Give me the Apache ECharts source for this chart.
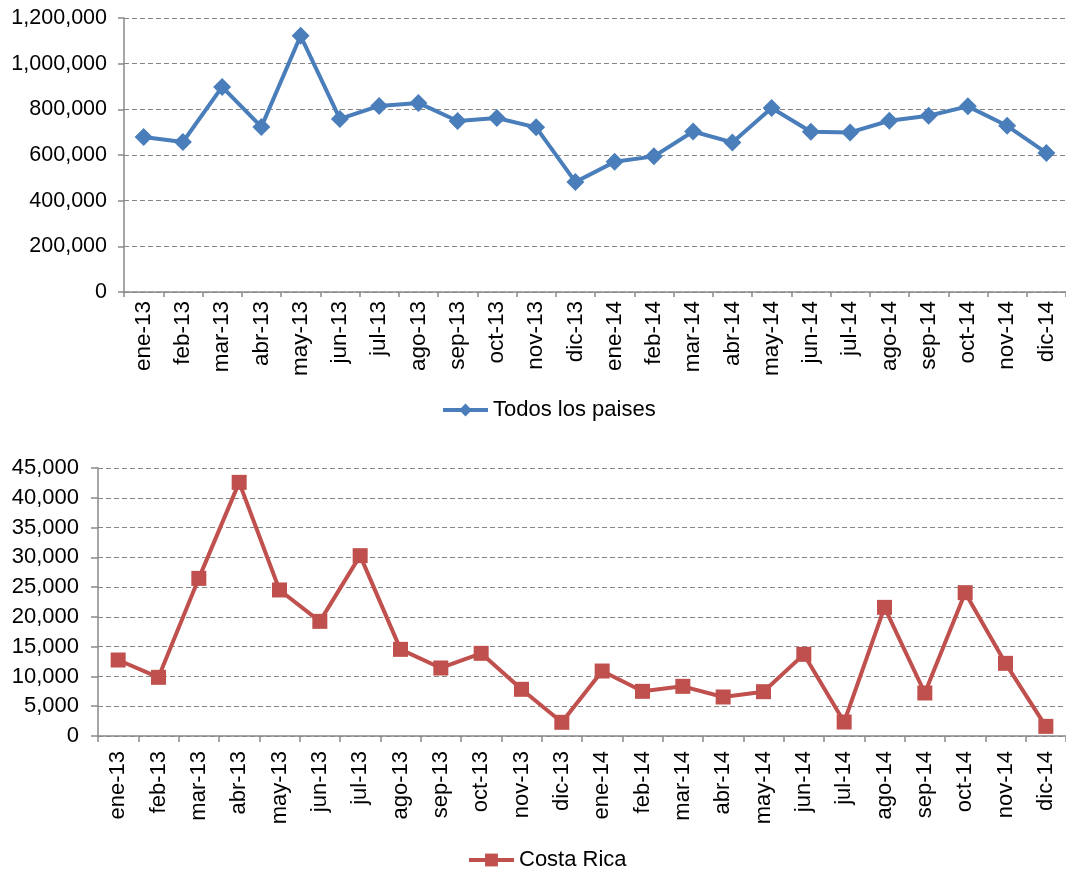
<!DOCTYPE html>
<html>
<head>
<meta charset="utf-8">
<script src="https://cdn.jsdelivr.net/npm/echarts@6/dist/echarts.min.js"></script>
<style>
html,body{margin:0;padding:0;background:#fff;}
#chart{width:1066px;height:869px;}
</style>
</head>
<body>
<div id="chart"></div>
<script>
var categories = ['ene-13','feb-13','mar-13','abr-13','may-13','jun-13','jul-13','ago-13','sep-13','oct-13','nov-13','dic-13',
                  'ene-14','feb-14','mar-14','abr-14','may-14','jun-14','jul-14','ago-14','sep-14','oct-14','nov-14','dic-14'];
var todosLosPaises = [679000, 657000, 898000, 723000, 1122000, 758000, 815000, 828000, 749000, 762000, 721000, 482000,
                      570000, 594000, 703000, 655000, 806000, 702000, 699000, 750000, 772000, 813000, 728000, 609000];
var costaRica = [12760, 9850, 26470, 42590, 24520, 19250, 30280, 14550, 11420, 13880, 7840, 2300,
                 10910, 7500, 8340, 6550, 7440, 13710, 2350, 21600, 7220, 24070, 12200, 1620];
var seriesNames = ['Todos los paises', 'Costa Rica'];

var FONT = 'Liberation Sans, Arial, sans-serif';
var AXIS_COLOR = '#898989';
var GRID_COLOR = '#858585';
var fmt = function (v) { return Number(v).toLocaleString('en-US'); };

function xAxis(gridIndex, margin, tickLen, fontSize) {
  return {
    type: 'category', gridIndex: gridIndex, data: categories, boundaryGap: true,
    axisLine: { lineStyle: { color: AXIS_COLOR, width: 1.5 } },
    axisTick: { show: true, interval: 0, length: tickLen, lineStyle: { color: AXIS_COLOR, width: 1.5 } },
    axisLabel: { interval: 0, rotate: 90, margin: margin, color: '#000', fontSize: fontSize, fontFamily: FONT }
  };
}
function yAxis(gridIndex, max, interval, margin, tickLen, fontSize) {
  return {
    type: 'value', gridIndex: gridIndex, min: 0, max: max, interval: interval,
    axisLine: { show: true, lineStyle: { color: AXIS_COLOR, width: 1.5 } },
    axisTick: { show: true, length: tickLen, lineStyle: { color: AXIS_COLOR, width: 1.5 } },
    axisLabel: { margin: margin, color: '#000', fontSize: fontSize, fontFamily: FONT, formatter: fmt },
    splitLine: { show: true, lineStyle: { color: GRID_COLOR, type: [5, 3], width: 1.2 } }
  };
}

var chart = echarts.init(document.getElementById('chart'), null, { renderer: 'canvas' });
chart.setOption({
  animation: false,
  backgroundColor: '#fff',
  grid: [
    { left: 124, top: 18, width: 950, height: 274, containLabel: false },
    { left: 98, top: 468, width: 977, height: 268, containLabel: false }
  ],
  xAxis: [xAxis(0, 9, 5, 22.5), xAxis(1, 15, 6, 22)],
  yAxis: [yAxis(0, 1200000, 200000, 17, 6, 21.5), yAxis(1, 45000, 5000, 19, 7, 22)],
  legend: [
    { data: [seriesNames[0]], left: 436, top: 394, itemWidth: 45, itemHeight: 16, itemGap: 10,
      lineStyle: { width: 4 },
      textStyle: { color: '#000', fontSize: 22, fontFamily: FONT } },
    { data: [seriesNames[1]], left: 462, top: 844, itemWidth: 45, itemHeight: 16, itemGap: 10,
      lineStyle: { width: 4 },
      textStyle: { color: '#000', fontSize: 22, fontFamily: FONT } }
  ],
  series: [
    { name: seriesNames[0], type: 'line', xAxisIndex: 0, yAxisIndex: 0, data: todosLosPaises,
      symbol: 'diamond', symbolSize: 18, showAllSymbol: true,
      lineStyle: { color: '#4a7ebb', width: 4 }, itemStyle: { color: '#4a7ebb' } },
    { name: seriesNames[1], type: 'line', xAxisIndex: 1, yAxisIndex: 1, data: costaRica,
      symbol: 'rect', symbolSize: 15, showAllSymbol: true,
      lineStyle: { color: '#c0504d', width: 4 }, itemStyle: { color: '#c0504d' } }
  ]
});
</script>
</body>
</html>
